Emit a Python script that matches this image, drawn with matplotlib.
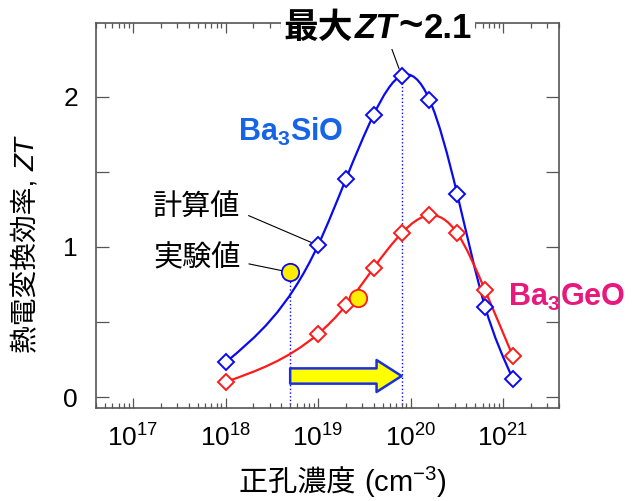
import numpy as np
import matplotlib
matplotlib.use("Agg")
import matplotlib.pyplot as plt
from matplotlib.path import Path
from matplotlib.patches import PathPatch, FancyArrowPatch
from matplotlib.ticker import LogLocator, LogFormatterSciNotation, NullFormatter
from matplotlib.offsetbox import TextArea, HPacker, AnnotationBbox

plt.rcParams['font.family'] = ['Liberation Sans', 'Noto Sans CJK JP']
plt.rcParams['mathtext.fontset'] = 'custom'
plt.rcParams['mathtext.rm'] = 'Liberation Sans'
plt.rcParams['mathtext.it'] = 'Liberation Sans:italic'
plt.rcParams['mathtext.bf'] = 'Liberation Sans:bold'
plt.rcParams['mathtext.default'] = 'regular'

# hole concentration (cm^-3) and ZT values
carrier = [1e18, 1e19, 2e19, 4e19, 8e19, 1.6e20, 3.2e20, 6.4e20, 1.28e21]
zt_si = [0.23, 1.01, 1.45, 1.88, 2.14, 1.98, 1.35, 0.60, 0.12]
zt_ge = [0.10, 0.42, 0.61, 0.86, 1.09, 1.21, 1.09, 0.71, 0.27]
exp_carrier = [5e18, 2.7e19]
exp_zt = [0.83, 0.66]

yticks = [0, 0.5, 1, 1.5, 2]
ytick_labels = ['0', '', '1', '', '2']

BLUE = '#0a0af0'
RED = '#ff1a1a'
YELLOW = '#ffee00'

W, H = 632, 501


def fig_xy(px, py):
    # pixel position in the picture -> figure fraction
    return px / W, 1 - py / H


def spline_path(x, y):
    # natural cubic spline in log10(x), drawn as bezier segments
    lx = np.log10(x)
    y = np.asarray(y, float)
    h = np.diff(lx)
    d = np.diff(y) / h
    n = len(lx)
    A = np.zeros((n, n))
    r = np.zeros(n)
    A[0, 0] = A[-1, -1] = 1
    for i in range(1, n - 1):
        A[i, i - 1] = h[i - 1]
        A[i, i] = 2 * (h[i - 1] + h[i])
        A[i, i + 1] = h[i]
        r[i] = 6 * (d[i] - d[i - 1])
    M = np.linalg.solve(A, r)
    verts = [(lx[0], y[0])]
    codes = [Path.MOVETO]
    for i in range(n - 1):
        m0 = d[i] - h[i] * (2 * M[i] + M[i + 1]) / 6
        m1 = d[i] + h[i] * (M[i] + 2 * M[i + 1]) / 6
        verts += [(lx[i] + h[i] / 3, y[i] + m0 * h[i] / 3),
                  (lx[i + 1] - h[i] / 3, y[i + 1] - m1 * h[i] / 3),
                  (lx[i + 1], y[i + 1])]
        codes += [Path.CURVE4] * 3
    v = np.array(verts)
    v[:, 0] = 10 ** v[:, 0]
    return Path(v, codes)


fig = plt.figure(figsize=(6.32, 5.01), dpi=100)
ax = fig.add_axes([96 / W, 1 - 408 / H, (559 - 96) / W, (408 - 23) / H])

ymin, ymax = -0.073, 2.49
ax.set_xscale('log')
ax.set_xlim(10 ** 16.6, 10 ** 21.605)
ax.set_ylim(ymin, ymax)

# guide lines
peak = int(np.argmax(zt_si))
ax.vlines(exp_carrier[0], ymin, exp_zt[0], colors=BLUE, linestyles=':', lw=1.0, zorder=1)
ax.vlines(carrier[peak], ymin, zt_si[peak], colors=BLUE, linestyles=':', lw=1.0, zorder=1)

# arrow from experiment to optimum
arr = FancyArrowPatch((exp_carrier[0], 0.14), (carrier[peak], 0.14),
                      arrowstyle='simple,head_length=18,head_width=23,tail_width=11',
                      mutation_scale=1, shrinkA=0, shrinkB=0,
                      fc='#ffff00', ec='#1a2ee6', lw=1.8, zorder=2)
ax.add_patch(arr)

# smooth curves
ax.add_patch(PathPatch(spline_path(carrier, zt_si), fc='none', ec=BLUE, lw=1.6, zorder=3))
ax.add_patch(PathPatch(spline_path(carrier, zt_ge), fc='none', ec=RED, lw=1.6, zorder=3))

ax.plot(carrier, zt_si, ls='none', marker='D', ms=7.8, mfc='white', mec=BLUE, mew=1.4, zorder=4)
ax.plot(carrier, zt_ge, ls='none', marker='D', ms=7.8, mfc='white', mec=RED, mew=1.4, zorder=4)

ax.plot(exp_carrier[0], exp_zt[0], 'o', ms=12.5, mfc=YELLOW, mec=BLUE, mew=1.3, zorder=5)
ax.plot(exp_carrier[1], exp_zt[1], 'o', ms=12.5, mfc=YELLOW, mec=RED, mew=1.3, zorder=5)

# axes styling
for s in ax.spines.values():
    s.set_color('#555555')
    s.set_linewidth(1.2)
ax.xaxis.set_major_locator(LogLocator(base=10, numticks=10))
ax.xaxis.set_minor_locator(LogLocator(base=10, subs=np.arange(2, 10), numticks=10))
ax.xaxis.set_major_formatter(LogFormatterSciNotation())
ax.xaxis.set_minor_formatter(NullFormatter())
ax.set_yticks(yticks)
ax.set_yticklabels(ytick_labels)
ax.tick_params(axis='x', which='major', direction='in', top=True, length=7, width=0.9,
               color='#555555', labelsize=19, pad=12)
ax.tick_params(axis='x', which='minor', direction='in', top=True, length=3.5, width=0.9,
               color='#555555')
ax.tick_params(axis='y', direction='in', right=True, length=9.5, width=0.9,
               color='#555555', labelsize=19, pad=13)

# x label: CJK part and math part packed on a common baseline
xl = HPacker(children=[TextArea('正孔濃度 ', textprops=dict(fontsize=21)),
                       TextArea('(cm$^{-3}$)', textprops=dict(fontsize=21))],
             align='baseline', pad=0, sep=0)
fig.add_artist(AnnotationBbox(xl, fig_xy(343, 482), xycoords='figure fraction',
                              frameon=False, box_alignment=(0.5, 0.5)))

# y label: rotated CJK text followed by italic ZT
yl = fig.text(*fig_xy(35, 353), '熱電変換効率, ', fontsize=20, rotation=90,
              rotation_mode='anchor', ha='left', va='baseline')
ax.annotate('ZT', xy=(35 / W, 1.0), xycoords=('figure fraction', yl),
            fontsize=20, fontstyle='italic', rotation=90, rotation_mode='anchor',
            ha='left', va='baseline', annotation_clip=False)

# series labels
fig.text(*fig_xy(291, 132), 'Ba$_3$SiO', fontsize=22, fontweight='bold', color='#1565e6',
         ha='center', va='center')
fig.text(*fig_xy(567, 297), 'Ba$_3$GeO', fontsize=22, fontweight='bold', color='#e8197d',
         ha='center', va='center')

# callouts
ax.annotate('計算値', xy=(carrier[1], zt_si[1]), xycoords='data',
            xytext=fig_xy(197, 208), textcoords='figure fraction',
            fontsize=21, ha='center', va='center',
            arrowprops=dict(arrowstyle='-', color='black', lw=0.8, relpos=(1.0, 0.35),
                            shrinkA=4, shrinkB=5))
ax.annotate('実験値', xy=(exp_carrier[0], exp_zt[0]), xycoords='data',
            xytext=fig_xy(197, 258), textcoords='figure fraction',
            fontsize=21, ha='center', va='center',
            arrowprops=dict(arrowstyle='-', color='black', lw=0.8, relpos=(1.0, 0.35),
                            shrinkA=4, shrinkB=2))

# title-like callout with white background over the top spine
parts = [TextArea('最大', textprops=dict(fontsize=25, fontweight='bold')),
         TextArea('ZT', textprops=dict(fontsize=25, fontweight='bold', fontstyle='italic')),
         TextArea('~', textprops=dict(fontsize=30, fontweight='bold')),
         TextArea('2.1', textprops=dict(fontsize=25, fontweight='bold'))]
pack = HPacker(children=parts, align='baseline', pad=0, sep=1)
ab = AnnotationBbox(pack, fig_xy(378, 27), xycoords='figure fraction',
                    frameon=True, box_alignment=(0.5, 0.5), pad=0.15,
                    bboxprops=dict(fc='white', ec='none'), zorder=10)
fig.add_artist(ab)
ax.annotate('', xy=(carrier[peak], zt_si[peak]), xycoords='data',
            xytext=fig_xy(390, 44), textcoords='figure fraction',
            arrowprops=dict(arrowstyle='-', color='black', lw=0.8, shrinkA=0, shrinkB=5))

fig.savefig('out.png', dpi=100)
